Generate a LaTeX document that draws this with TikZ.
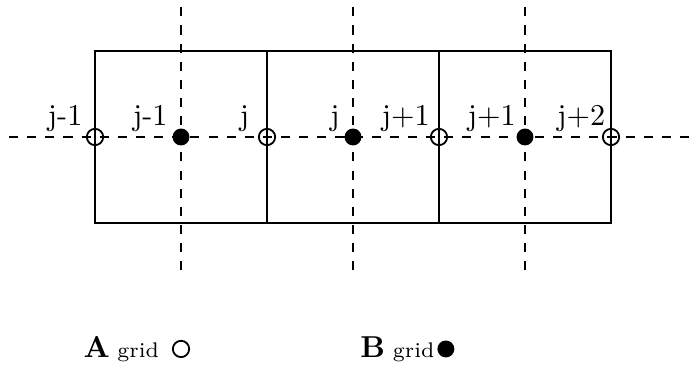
\documentclass[tikz,border=0pt]{standalone}
\usetikzlibrary{calc}
\begin{document}
\begin{tikzpicture}[every node/.style={font=\normalsize},
    cellline/.style={semithick},
    gridline/.style={semithick,dashed},
    opendot/.style={circle,draw,semithick,inner sep=0pt,minimum size=5.4pt},
    fulldot/.style={circle,fill,inner sep=0pt,minimum size=5.6pt},
    tag/.style={anchor=base east,inner sep=0pt}]
      \useasboundingbox (-1.105,-2.70) rectangle (7.0,1.593);
      % --- cells ---
      \draw[cellline] (0,-1) rectangle (6,1);
      \foreach \x in {2,4} \draw[cellline] (\x,-1) -- (\x,1);
      % --- dashed grid lines ---
      \draw[gridline] (-1,0) -- (7,0);
      \foreach \x in {1,3,5} \draw[gridline] (\x,-1.55) -- (\x,1.6);
      % --- A points (cell faces) ---
      \foreach \x/\t/\s in {0/j-1/-0.14, 2/j/-0.2, 4/j+1/-0.1, 6/j+2/-0.06} {
        \node[opendot] (a\x) at (\x,0) {};
        \node[tag] (ta\x) at ($(a\x)+(\s,0.13)$) {\t};
      }
      % --- B points (cell centres) ---
      \foreach \x/\t/\s in {1/j-1/-0.15, 3/j/-0.15, 5/j+1/-0.1} {
        \node[fulldot] (b\x) at (\x,0) {};
        \node[tag] (tb\x) at ($(b\x)+(\s,0.13)$) {\t};
      }
      % --- legend ---
      \node[anchor=base west,inner sep=0pt] (keyA) at (-0.14,-2.57) {\textbf{A}\hspace{2.5pt}{\scriptsize grid}};
      \node[opendot] (dotA) at (1,-2.465) {};
      \node[anchor=base west,inner sep=0pt] (keyB) at (3.08,-2.57) {\textbf{B}\hspace{2.5pt}{\scriptsize grid}};
      \node[fulldot] (dotB) at (4.08,-2.465) {};
\end{tikzpicture}
\end{document}
